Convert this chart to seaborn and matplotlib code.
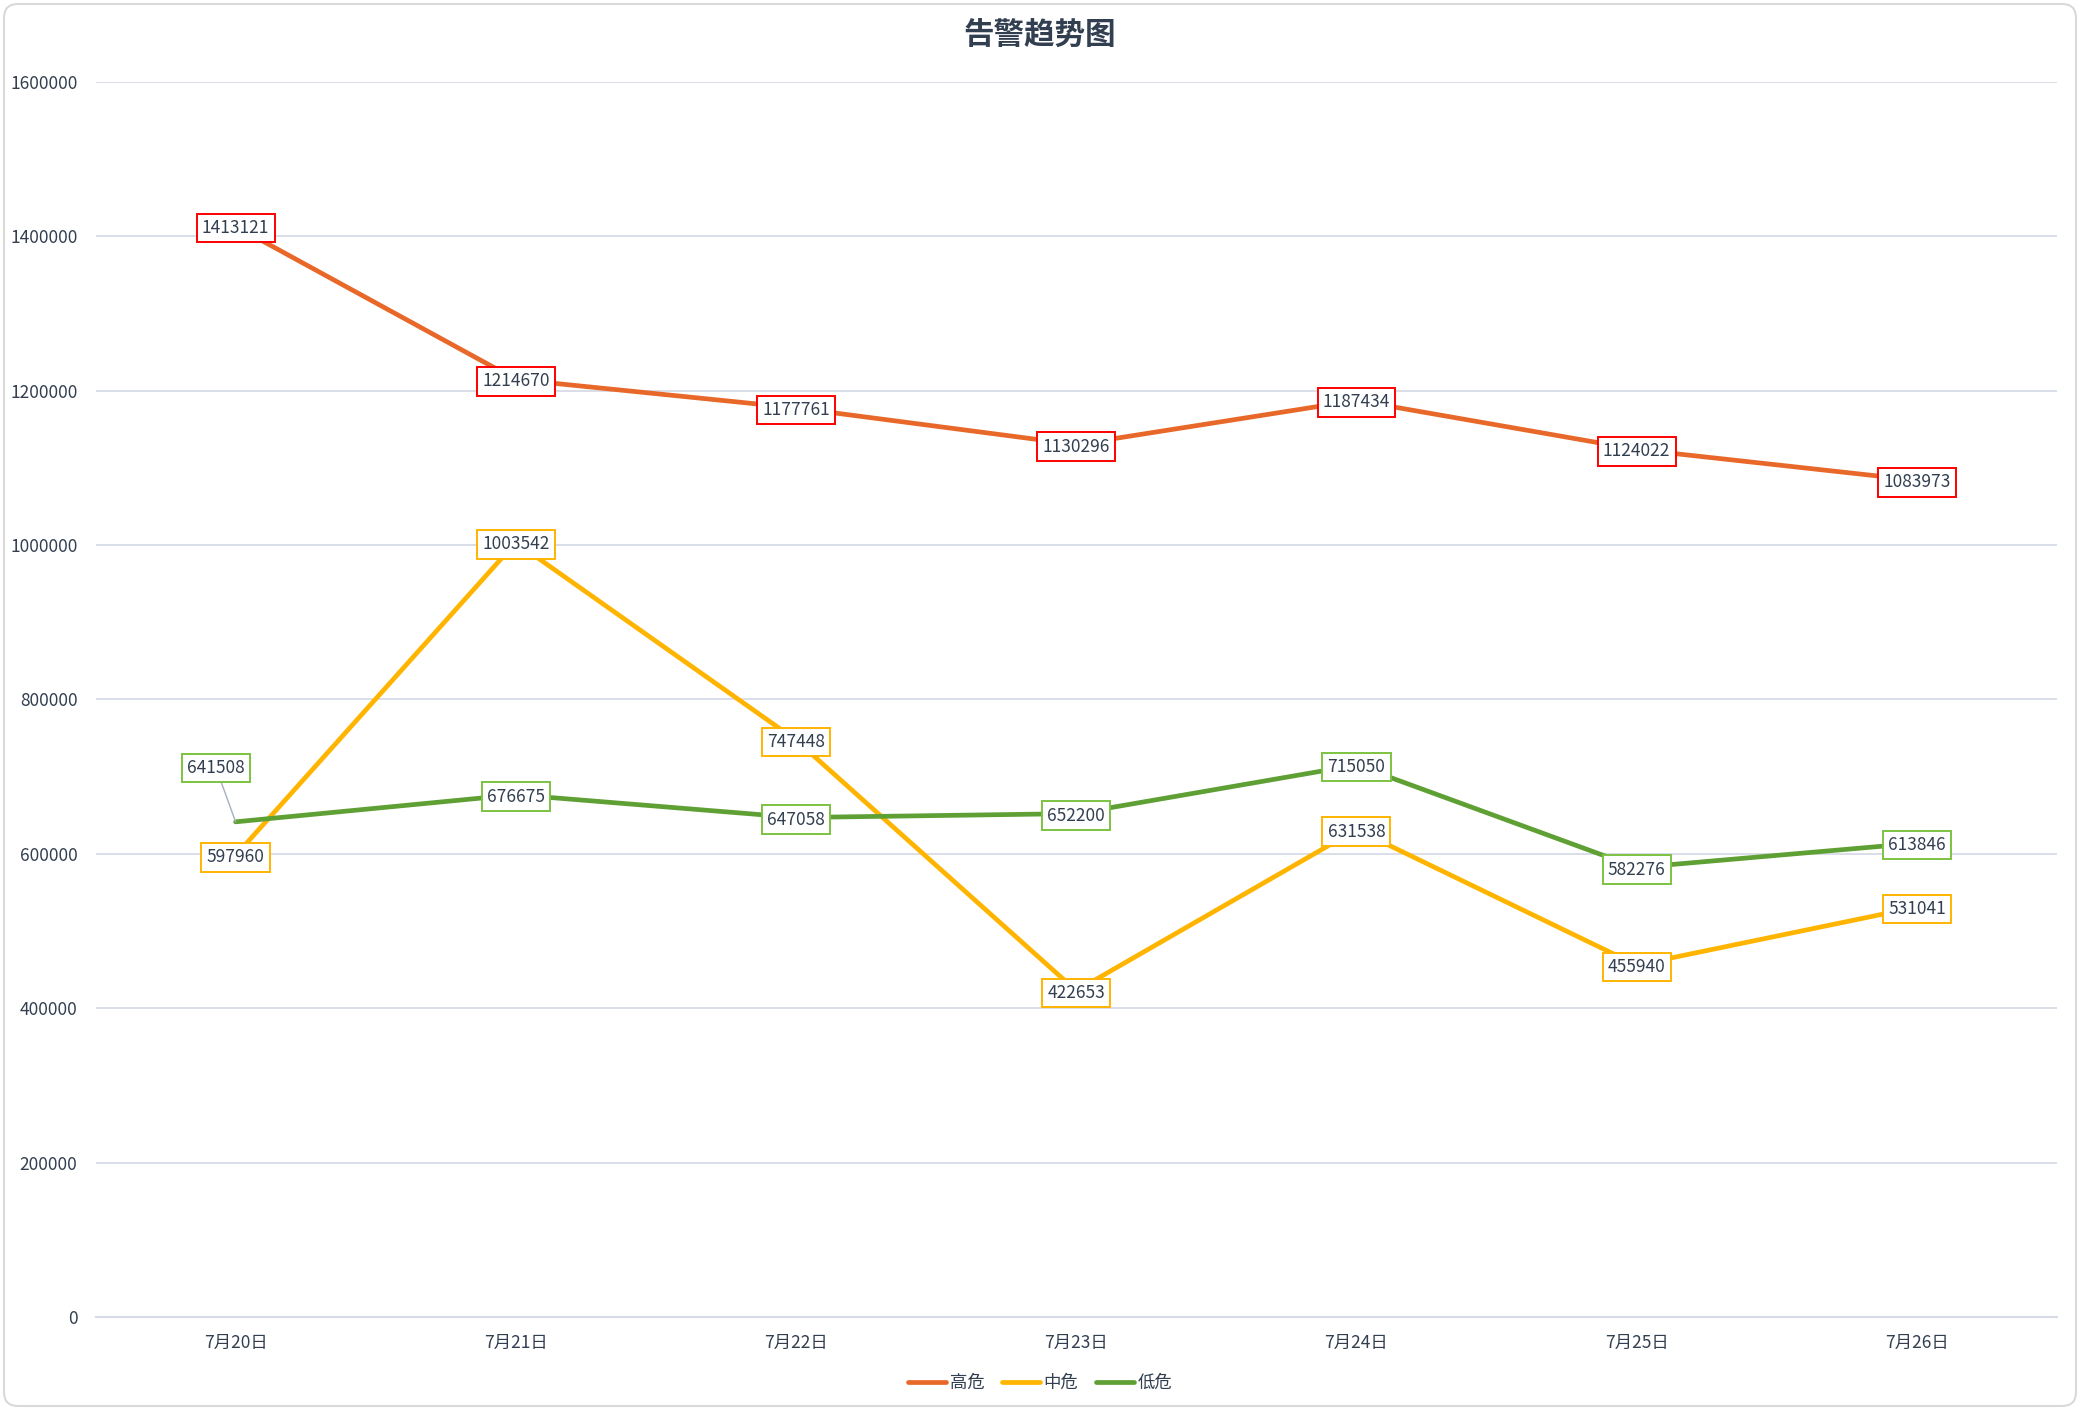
import matplotlib
matplotlib.use('Agg')
import matplotlib.pyplot as plt
import matplotlib.patches as mpatches
from matplotlib.transforms import IdentityTransform
from matplotlib.lines import Line2D
import seaborn as sns
import pandas as pd

dates = ['7月20日', '7月21日', '7月22日', '7月23日', '7月24日', '7月25日', '7月26日']
high = [1413121, 1214670, 1177761, 1130296, 1187434, 1124022, 1083973]
mid = [597960, 1003542, 747448, 422653, 631538, 455940, 531041]
low = [641508, 676675, 647058, 652200, 715050, 582276, 613846]
series_names = ['高危', '中危', '低危']

line_colors = {'高危': '#E8682A', '中危': '#FFB400', '低危': '#5FA034'}
box_colors = {'高危': '#FF0000', '中危': '#FFB400', '低危': '#7CC242'}
text_color = '#323F50'
grid_color = '#D6DBE6'

df = pd.DataFrame({'日期': dates * 3,
                   '数量': high + mid + low,
                   '等级': [n for n in series_names for _ in dates]})

sns.set_theme(style='white')
plt.rcParams['font.family'] = ['Noto Sans CJK SC', 'DejaVu Sans']

fig = plt.figure(figsize=(20.8, 14.1), dpi=100)
ax = fig.add_axes([95.5 / 2080, 1 - 1317 / 1410, 1961.5 / 2080, 1235 / 1410])

sns.lineplot(data=df, x='日期', y='数量', hue='等级', palette=line_colors,
             linewidth=3.4, ax=ax, sort=False, legend=False)

ax.set_xlim(-0.5, 6.5)
ax.set_ylim(0, 1600000)
ax.set_yticks(range(0, 1600001, 200000))
ax.set_yticklabels([str(v) for v in range(0, 1600001, 200000)])
ax.set_xlabel('')
ax.set_ylabel('')
ax.yaxis.grid(True, color=grid_color, linewidth=1.3)
ax.set_axisbelow(True)
for s in ['top', 'right', 'left']:
    ax.spines[s].set_visible(False)
ax.spines['bottom'].set_color(grid_color)
ax.spines['bottom'].set_linewidth(1.5)
ax.tick_params(axis='y', length=0, pad=13, labelsize=12.5, labelcolor=text_color)
ax.tick_params(axis='x', which='major', length=0, pad=12, labelsize=12.5, labelcolor=text_color)
ax.set_xticks([i - 0.5 for i in range(8)], minor=True)
ax.tick_params(axis='x', which='minor', length=4, width=1.3, color=grid_color, direction='out')

# data labels
for name, vals in zip(series_names, [high, mid, low]):
    for i, v in enumerate(vals):
        bbox = dict(boxstyle='square,pad=0.3', fc='white', ec=box_colors[name], lw=1.4)
        if name == '低危' and i == 0:
            ax.annotate(str(v), xy=(i, v), xytext=(-14, 40), textcoords='offset points',
                        ha='center', va='center_baseline', fontsize=12.5, color=text_color,
                        bbox=bbox, arrowprops=dict(arrowstyle='-', color='#A6AFC0', lw=1.0,
                                                   shrinkA=0, shrinkB=0), zorder=5)
        else:
            ax.text(i, v, str(v), ha='center', va='center_baseline', fontsize=12.5,
                    color=text_color, bbox=bbox, zorder=5)

fig.text(0.5, 1 - 36 / 1410, '告警趋势图', ha='center', va='center',
         fontsize=22, fontweight='bold', color=text_color)

handles = [Line2D([0], [0], color=line_colors[n], lw=3.4, solid_capstyle='round') for n in series_names]
fig.legend(handles, series_names, loc='center', bbox_to_anchor=(0.5, 1 - 1383 / 1410),
           ncol=3, frameon=False, fontsize=12.5, labelcolor=text_color,
           handlelength=2.2, handletextpad=0.2, columnspacing=1.0)

border = mpatches.FancyBboxPatch((4, 4), 2072, 1402, boxstyle='round,pad=0,rounding_size=14',
                                 transform=IdentityTransform(), fill=False,
                                 ec='#D9D9D9', lw=1.5)
fig.add_artist(border)

fig.savefig('out.png', dpi=100)
